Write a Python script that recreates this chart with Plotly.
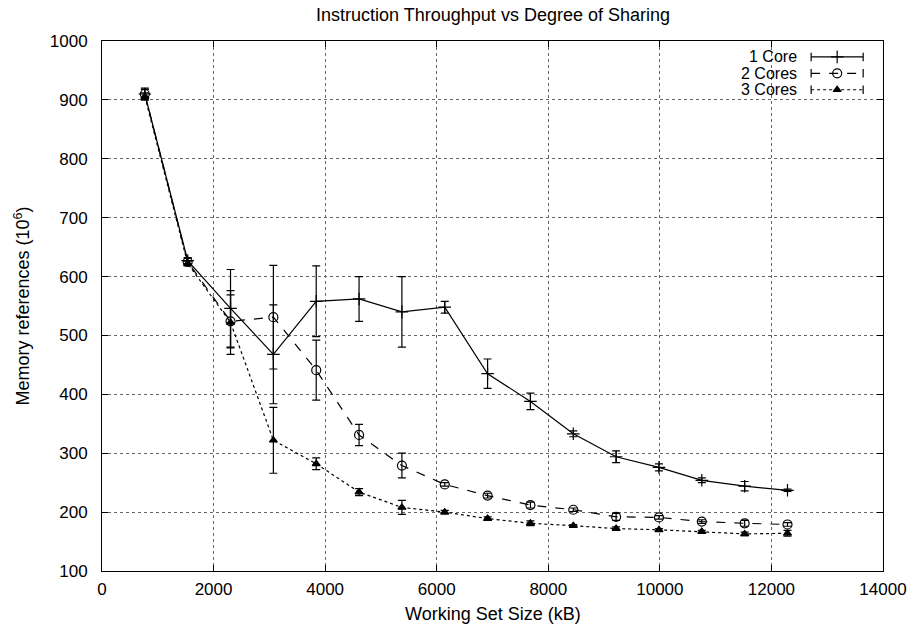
import plotly.graph_objects as go

sizes = [768, 1536, 2304, 3072, 3840, 4608, 5376, 6144, 6912, 7680, 8448, 9216, 9984, 10752, 11520, 12288]
one_core = [910, 627, 546, 468, 558, 562, 540, 548, 435, 388, 333, 294, 276, 254, 244, 237]
one_err = [10, 5, 66, 84, 60, 38, 60, 10, 25, 14, 5, 10, 6, 4, 8, 2]
two_cores = [910, 625, 524, 531, 441, 331, 279, 247, 228, 212, 204, 192, 191, 184, 181, 179]
two_err = [8, 6, 45, 88, 51, 18, 21, 3, 4, 5, 3, 6, 3, 3, 5, 3]
three_cores = [906, 622, 522, 322, 282, 234, 208, 200, 189, 181, 177, 172, 170, 167, 163, 164]
three_err = [6, 4, 54, 56, 10, 6, 12, 3, 3, 4, 2, 3, 2, 2, 3, 5]
series_names = ["1 Core", "2 Cores", "3 Cores"]

FONT = "Liberation Sans, Arial, sans-serif"
FS_TICK = 17
FS_TEXT = 18
FS_KEY = 16

styles = [
    dict(dash="solid", symbol="cross-thin-open", msize=9),
    dict(dash="dash", symbol="circle-open", msize=9),
    dict(dash="dot", symbol="triangle-up", msize=7),
]
values = [one_core, two_cores, three_cores]
errors = [one_err, two_err, three_err]

fig = go.Figure()
for name, vals, errs, st in zip(series_names, values, errors, styles):
    fig.add_trace(go.Scatter(
        x=sizes, y=vals, name=name, mode="lines+markers",
        line=dict(color="black", width=1.2, dash=st["dash"]),
        marker=dict(symbol=st["symbol"], size=st["msize"], color="black",
                    line=dict(color="black", width=1.2)),
        error_y=dict(type="data", array=errs, visible=True, color="black",
                     thickness=1.2, width=4),
        showlegend=False,
    ))

# manual gnuplot-style key (text left, sample right) on an overlay axis
row_y = [0.970, 0.939, 0.908]
x0, x1 = 0.908, 0.9746
xm = (x0 + x1) / 2
for name, st, ry in zip(series_names, styles, row_y):
    fig.add_trace(go.Scatter(
        x=[x0, x1], y=[ry, ry], xaxis="x2", yaxis="y2", mode="lines",
        line=dict(color="black", width=1.2, dash=st["dash"]),
        showlegend=False, hoverinfo="skip"))
    fig.add_trace(go.Scatter(
        x=[xm], y=[ry], xaxis="x2", yaxis="y2", mode="markers",
        marker=dict(symbol=st["symbol"], size=st["msize"], color="black",
                    line=dict(color="black", width=1.2)),
        showlegend=False, hoverinfo="skip"))
    for xc in (x0, x1):
        fig.add_trace(go.Scatter(
            x=[xc, xc], y=[ry - 0.008, ry + 0.008], xaxis="x2", yaxis="y2",
            mode="lines", line=dict(color="black", width=1.2),
            showlegend=False, hoverinfo="skip"))
    fig.add_annotation(x=0.892, y=ry, xref="paper", yref="paper", text=name,
                       showarrow=False, xanchor="right", yanchor="middle",
                       font=dict(family=FONT, size=FS_KEY, color="black"))

# axis titles
fig.add_annotation(x=0.5, y=-0.082, xref="paper", yref="paper",
                   text="Working Set Size (kB)", showarrow=False,
                   xanchor="center", yanchor="middle",
                   font=dict(family=FONT, size=FS_TEXT, color="black"))
fig.add_annotation(x=-0.103, y=0.5, xref="paper", yref="paper",
                   text="Memory references (10<sup>6</sup>)", showarrow=False,
                   textangle=-90, xanchor="center", yanchor="middle",
                   font=dict(family=FONT, size=FS_TEXT, color="black"))

axis_common = dict(
    showline=True, linecolor="black", linewidth=1, mirror="ticks",
    ticks="inside", ticklen=6, tickcolor="black",
    showgrid=True, gridcolor="#666666", griddash="dot", gridwidth=1,
    zeroline=False, tickformat="d",
    tickfont=dict(family=FONT, size=FS_TICK, color="black"),
)

fig.update_layout(
    width=919, height=629,
    margin=dict(l=102, r=31, t=41, b=58),
    paper_bgcolor="white", plot_bgcolor="white",
    font=dict(family=FONT, size=FS_TICK, color="black"),
    title=dict(text="Instruction Throughput vs Degree of Sharing", x=0.5365, xanchor="center",
               y=0.976, yanchor="middle", font=dict(family=FONT, size=FS_TEXT, color="black")),
    xaxis=dict(range=[0, 14000], dtick=2000, tick0=0, ticklabelstandoff=3,
               **axis_common),
    yaxis=dict(range=[100, 1000], dtick=100, tick0=100, ticklabelstandoff=10,
               **axis_common),
    xaxis2=dict(overlaying="x", range=[0, 1], visible=False, fixedrange=True),
    yaxis2=dict(overlaying="y", range=[0, 1], visible=False, fixedrange=True),
)

# remove the browser's default 8px body margin so the figure fills the window
fig.write_html("out.html",
               config={"displayModeBar": False},
               post_script="document.body.style.margin='0';document.body.style.overflow='hidden';")
